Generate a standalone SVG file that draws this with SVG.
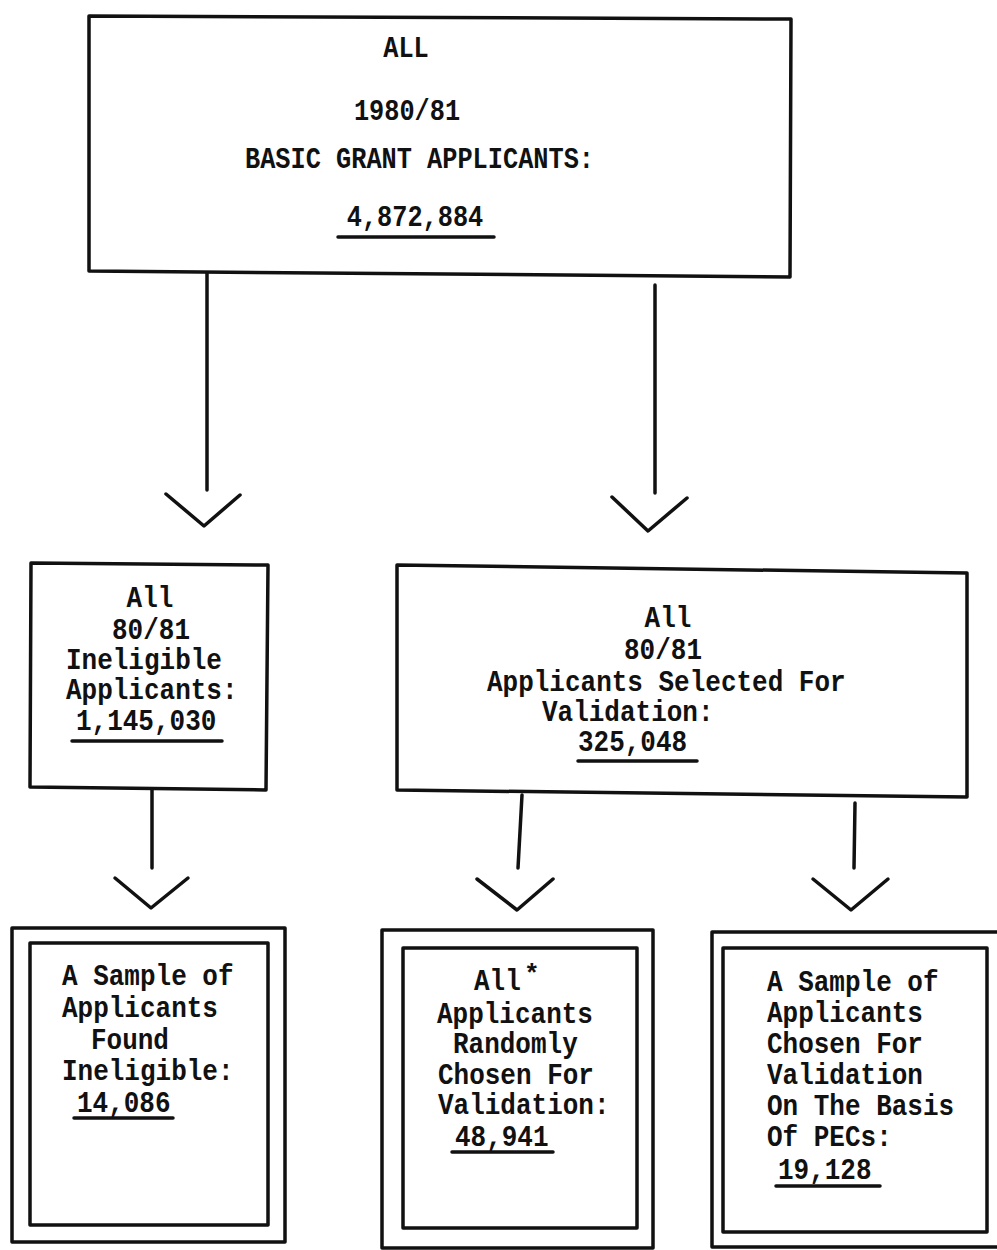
<svg xmlns="http://www.w3.org/2000/svg" width="997" height="1250" viewBox="0 0 997 1250">
<style>
.box{fill:none;stroke:#111;stroke-width:3.5;stroke-linejoin:round}
.ln{fill:none;stroke:#111;stroke-width:3.5;stroke-linecap:round;stroke-linejoin:round}
.t{font-family:"Liberation Mono","Courier New",monospace;font-size:26px;font-weight:bold;fill:#111}
.s{font-size:25.3px}
.m{text-anchor:middle}
.ul{stroke:#111;stroke-width:3.5;stroke-linecap:round}
</style>
<rect width="997" height="1250" fill="#fff"/>
<g id="n-all">
<polygon class="box" points="89,16 791,19 790,277 89,271"/>
<text class="t s m" transform="translate(406,57) scale(1,1.15)">ALL</text>
<text class="t s m" transform="translate(407,120) scale(1,1.15)">1980/81</text>
<text class="t s" transform="translate(245,168) scale(1,1.15)">BASIC GRANT APPLICANTS:</text>
<text class="t s m" transform="translate(415,226) scale(1,1.15)">4,872,884</text>
<line class="ul" x1="338" y1="237" x2="494" y2="237"/>
</g>
<g id="n-ineligible">
<polygon class="box" points="31,563 268,565 266,790 30,787"/>
<text class="t m" transform="translate(150,607) scale(1,1.15)">All</text>
<text class="t m" transform="translate(151,639) scale(1,1.15)">80/81</text>
<text class="t" transform="translate(66,669) scale(1,1.15)">Ineligible</text>
<text class="t" transform="translate(66,699) scale(1,1.15)">Applicants:</text>
<text class="t" transform="translate(76,730) scale(1,1.15)">1,145,030</text>
<line class="ul" x1="72" y1="741" x2="222" y2="741"/>
</g>
<g id="n-selected">
<polygon class="box" points="397,565 967,573 967,797 397,790"/>
<text class="t m" transform="translate(668,627) scale(1,1.15)">All</text>
<text class="t m" transform="translate(663,659) scale(1,1.15)">80/81</text>
<text class="t" transform="translate(487,691) scale(1,1.15)">Applicants Selected For</text>
<text class="t" transform="translate(542,721) scale(1,1.15)">Validation:</text>
<text class="t" transform="translate(578,751) scale(1,1.15)">325,048</text>
<line class="ul" x1="578" y1="761" x2="697" y2="761"/>
</g>
<g id="n-sample-ineligible">
<polygon class="box" points="12,928 285,928 285,1242 12,1242"/>
<polygon class="box" points="30,943 268,943 268,1225 30,1225"/>
<text class="t" transform="translate(62,985) scale(1,1.15)">A Sample of</text>
<text class="t" transform="translate(62,1017) scale(1,1.15)">Applicants</text>
<text class="t" transform="translate(91,1049) scale(1,1.15)">Found</text>
<text class="t" transform="translate(62,1080) scale(1,1.15)">Ineligible:</text>
<text class="t" transform="translate(77,1112) scale(1,1.15)">14,086</text>
<line class="ul" x1="74" y1="1118" x2="173" y2="1118"/>
</g>
<g id="n-random">
<polygon class="box" points="382,930 653,930 653,1248 382,1248"/>
<polygon class="box" points="403,948 637,948 637,1228 403,1228"/>
<text class="t" transform="translate(474,990) scale(1,1.15)">All</text>
<text class="t" transform="translate(524,982)">*</text>
<text class="t" transform="translate(437,1023) scale(1,1.15)">Applicants</text>
<text class="t" transform="translate(453,1053) scale(1,1.15)">Randomly</text>
<text class="t" transform="translate(438,1084) scale(1,1.15)">Chosen For</text>
<text class="t" transform="translate(438,1114) scale(1,1.15)">Validation:</text>
<text class="t" transform="translate(455,1146) scale(1,1.15)">48,941</text>
<line class="ul" x1="452" y1="1152" x2="553" y2="1152"/>
</g>
<g id="n-pecs">
<polyline class="box" points="1000,932 712,932 712,1247 1000,1247"/>
<polygon class="box" points="723,948 987,948 987,1232 723,1232"/>
<text class="t" transform="translate(767,991) scale(1,1.15)">A Sample of</text>
<text class="t" transform="translate(767,1022) scale(1,1.15)">Applicants</text>
<text class="t" transform="translate(767,1053) scale(1,1.15)">Chosen For</text>
<text class="t" transform="translate(767,1084) scale(1,1.15)">Validation</text>
<text class="t" transform="translate(767,1115) scale(1,1.15)">On The Basis</text>
<text class="t" transform="translate(767,1146) scale(1,1.15)">Of PECs:</text>
<text class="t" transform="translate(778,1179) scale(1,1.15)">19,128</text>
<line class="ul" x1="776" y1="1186" x2="880" y2="1186"/>
</g>
<g id="connectors">
<line class="ln" x1="207" y1="273" x2="207" y2="490"/>
<polyline class="ln" points="166,494 204,526 240,495"/>
<line class="ln" x1="655" y1="285" x2="655" y2="493"/>
<polyline class="ln" points="612,497 648,531 687,498"/>
<line class="ln" x1="152" y1="789" x2="152" y2="868"/>
<polyline class="ln" points="115,878 151,908 188,878"/>
<line class="ln" x1="522" y1="795" x2="518" y2="868"/>
<polyline class="ln" points="477,879 517,910 553,879"/>
<line class="ln" x1="855" y1="803" x2="854" y2="868"/>
<polyline class="ln" points="813,879 851,910 888,879"/>
</g>
</svg>
